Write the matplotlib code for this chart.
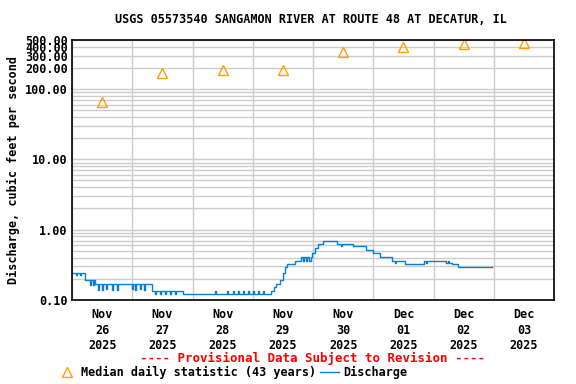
import matplotlib
matplotlib.use("Agg")
import matplotlib.pyplot as plt
import numpy as np
from datetime import datetime, timedelta

start = datetime(2025, 11, 26)

# median daily statistic, plotted at noon of each day
median_days = [0, 1, 2, 3, 4, 5, 6, 7]
median_vals = [65, 168, 186, 186, 335, 395, 440, 455]

# discharge, hours since Nov 26 00:00 (step data)
q_hours = [0, 1.5, 2.0, 3.0, 3.6, 5.2, 7.0, 7.4, 8.2, 8.6,
           9.2, 10.5, 10.9, 12.0, 12.5, 13.4, 13.8, 16.0, 16.4, 18.0, 18.5,
           23.0, 24.0, 24.4, 25.0, 25.6, 27.0, 27.5, 28.5, 29.0,
           31.9, 33.0, 33.4, 35.0, 35.5, 37.0, 37.4, 39.0, 39.6, 41.0, 41.5,
           44.2, 57.0, 57.4, 61.7, 62.1, 64.0, 64.5, 66.0, 66.6, 68.0, 68.5,
           70.0, 70.4, 72.0, 72.5, 74.0, 74.6, 76.0, 76.5,
           79.3, 80.5, 81.3, 82.9, 84.1, 84.9, 85.7, 88.8,
           91.2, 91.8, 92.2, 93.0, 93.4, 94.5, 95.0,
           95.6, 96.8, 98.0, 100.0, 105.6, 107.0, 107.4, 112.0, 117.1, 119.9,
           122.7, 127.5, 128.5, 128.9, 132.7, 140.2, 141.0, 141.4,
           149.0, 149.6, 150.3, 151.4, 153.8, 167.3]
q_vals = [0.245, 0.225, 0.245, 0.225, 0.245, 0.19, 0.165, 0.19, 0.165, 0.19,
          0.17, 0.14, 0.17, 0.14, 0.17, 0.145, 0.17, 0.14, 0.17, 0.14, 0.17,
          0.17, 0.145, 0.17, 0.14, 0.17, 0.145, 0.17, 0.14, 0.17,
          0.136, 0.122, 0.136, 0.122, 0.136, 0.122, 0.136, 0.122, 0.136, 0.122, 0.136,
          0.122, 0.136, 0.122, 0.136, 0.122, 0.136, 0.122, 0.136, 0.122, 0.136, 0.122,
          0.136, 0.122, 0.136, 0.122, 0.136, 0.122, 0.136, 0.122,
          0.136, 0.155, 0.17, 0.19, 0.24, 0.29, 0.326, 0.353,
          0.407, 0.36, 0.407, 0.36, 0.407, 0.36, 0.407,
          0.464, 0.548, 0.625, 0.697, 0.625, 0.58, 0.625, 0.577, 0.506, 0.464,
          0.407, 0.361, 0.33, 0.361, 0.324, 0.361, 0.33, 0.361,
          0.33, 0.361, 0.33, 0.324, 0.293, 0.293]

day_labels = ["Nov\n26\n2025", "Nov\n27\n2025", "Nov\n28\n2025", "Nov\n29\n2025",
              "Nov\n30\n2025", "Dec\n01\n2025", "Dec\n02\n2025", "Dec\n03\n2025"]
y_ticks = [0.1, 1, 10, 100, 200, 300, 400, 500]
y_ticklabels = ["0.10", "1.00", "10.00", "100.00", "200.00", "300.00", "400.00", "500.00"]

mono = "DejaVu Sans Mono"
fig = plt.figure(figsize=(5.76, 3.84), dpi=100)
ax = fig.add_axes([0.125, 0.219, 0.837, 0.677])

q_t = [start + timedelta(hours=h) for h in q_hours]
med_t = [start + timedelta(days=d, hours=12) for d in median_days]

ax.step(q_t, q_vals, where="post", color="#0a7fcf", lw=1.0)
ax.plot(med_t, median_vals, linestyle="none", marker="^", markersize=7,
        markerfacecolor="none", markeredgecolor="#ffa000", markeredgewidth=1.0)

ax.set_yscale("log")
ax.set_ylim(0.1, 500)
ax.set_xlim(start, start + timedelta(days=8))

ax.set_yticks(y_ticks)
ax.set_yticklabels(y_ticklabels, fontfamily=mono, fontweight="bold", fontsize=8.5)
ax.yaxis.set_minor_locator(matplotlib.ticker.LogLocator(base=10, subs=np.arange(2, 10)))
ax.yaxis.set_minor_formatter(matplotlib.ticker.NullFormatter())

ax.set_xticks([start + timedelta(days=d) for d in range(9)])
ax.set_xticklabels([])
ax.set_xticks(med_t, minor=True)
ax.set_xticklabels(day_labels, minor=True, fontfamily=mono, fontweight="bold",
                   fontsize=8.5, linespacing=1.25)
ax.tick_params(which="both", length=0, pad=3)
ax.tick_params(axis="x", which="minor", pad=6)

ax.grid(True, which="major", color="#cccccc", lw=1)
ax.grid(True, which="minor", axis="y", color="#cccccc", lw=1)
ax.set_axisbelow(True)
for s in ax.spines.values():
    s.set_linewidth(1.2)

ax.set_ylabel("Discharge, cubic feet per second", fontfamily=mono,
              fontweight="bold", fontsize=8.5, labelpad=4)
fig.text(0.54, 0.948, "USGS 05573540 SANGAMON RIVER AT ROUTE 48 AT DECATUR, IL",
         ha="center", va="center", fontfamily=mono, fontweight="bold", fontsize=8.5)
fig.text(0.542, 0.067, "---- Provisional Data Subject to Revision ----", color="red",
         ha="center", va="center", fontfamily=mono, fontweight="bold", fontsize=9)

h1 = plt.Line2D([], [], linestyle="none", marker="^", markersize=7,
                markerfacecolor="none", markeredgecolor="#ffa000")
h2 = plt.Line2D([], [], color="#0a7fcf", lw=1.0)
fig.legend([h1, h2], ["Median daily statistic (43 years)", "Discharge"],
           loc="center left", bbox_to_anchor=(0.09, 0.031), ncol=2, frameon=False,
           prop={"family": mono, "weight": "bold", "size": 8.5},
           handlelength=1.6, handletextpad=0.4, columnspacing=0.3, borderpad=0)

fig.savefig("out.png", dpi=100)
